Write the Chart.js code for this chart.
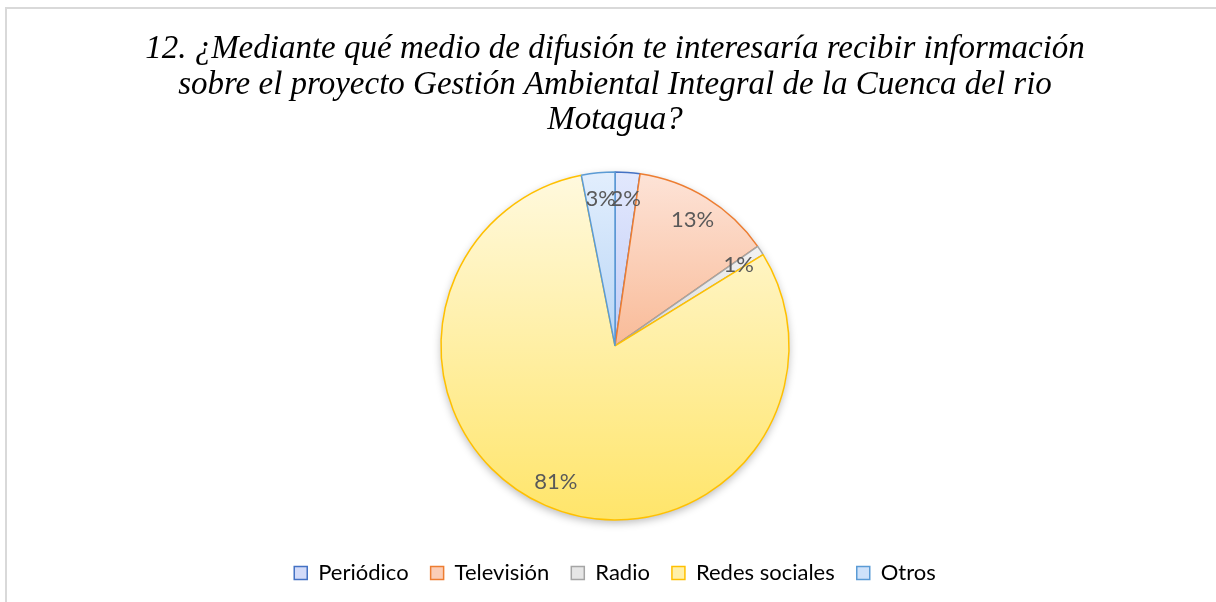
<!DOCTYPE html>
<html><head><meta charset="utf-8">
<script src="https://cdn.jsdelivr.net/npm/chart.js@4/dist/chart.umd.min.js"></script>
<style>html,body{margin:0;padding:0;background:#fff;} #wrap{width:1216px;height:602px;position:relative;}</style>
</head><body><div id="wrap"><canvas id="c" width="1216" height="602"></canvas></div>
<script>
const titleLines = [
  '12. ¿Mediante qué medio de difusión te interesaría recibir información',
  'sobre el proyecto Gestión Ambiental Integral de la Cuenca del rio',
  'Motagua?'
];
const categories = ['Periódico', 'Televisión', 'Radio', 'Redes sociales', 'Otros'];
const values = [2.3, 13.0, 0.9, 80.7, 3.1];
const borderColors = ['#4472C4', '#ED7D31', '#A5A5A5', '#FFC000', '#5B9BD5'];
const gradTop = ['#E2E8FD', '#FDE3D7', '#F2F2F2', '#FFF9DE', '#E2EEFD'];
const gradBottom = ['#C2CDF6', '#F9BB98', '#DADADA', '#FFE56A', '#B9D6F6'];
const legendFill = ['#D3DBF9', '#FBCDB6', '#E6E6E6', '#FFF0A8', '#CFE2FA'];

function sliceGradient(ctx) {
  const chart = ctx.chart, i = ctx.dataIndex;
  const meta = chart.getDatasetMeta(0);
  const R = meta.controller && meta.controller.outerRadius;
  const area = chart.chartArea;
  if (!R || !area) return legendFill[i];
  const cx = (area.left + area.right) / 2, cy = (area.top + area.bottom) / 2;
  const total = values.reduce((a, b) => a + b, 0);
  let cum = 0; for (let k = 0; k < i; k++) cum += values[k];
  const a0 = cum / total * 2 * Math.PI, a1 = (cum + values[i]) / total * 2 * Math.PI;
  const ys = [cy, cy - R * Math.cos(a0), cy - R * Math.cos(a1)];
  if (a0 <= 1e-9 || a1 >= 2 * Math.PI - 1e-9) ys.push(cy - R);
  if (a0 <= Math.PI && a1 >= Math.PI) ys.push(cy + R);
  const y0 = Math.min(...ys), y1 = Math.max(...ys);
  const g = chart.ctx.createLinearGradient(0, y0, 0, y1 + 0.01);
  g.addColorStop(0, gradTop[i]);
  g.addColorStop(1, gradBottom[i]);
  return g;
}

const framePlugin = {
  id: 'frame',
  beforeDraw(chart) {
    const c = chart.ctx;
    c.save();
    c.fillStyle = '#fff';
    c.fillRect(0, 0, chart.width, chart.height);
    c.strokeStyle = '#D9D9D9';
    c.lineWidth = 2;
    c.strokeRect(6, 8, 1400, 800);
    c.restore();
  }
};

const shadowPlugin = {
  id: 'pieShadow',
  beforeDatasetsDraw(chart) {
    const meta = chart.getDatasetMeta(0);
    const arc = meta.data[0];
    if (!arc) return;
    const c = chart.ctx;
    c.save();
    c.beginPath();
    c.arc(arc.x, arc.y, arc.outerRadius, 0, Math.PI * 2);
    c.shadowColor = 'rgba(0,0,0,0.28)';
    c.shadowBlur = 8;
    c.shadowOffsetY = 3;
    c.fillStyle = '#fff';
    c.fill();
    c.restore();
  }
};

const labelPlugin = {
  id: 'sliceLabels',
  afterDatasetsDraw(chart) {
    const meta = chart.getDatasetMeta(0);
    const total = values.reduce((a, b) => a + b, 0);
    const c = chart.ctx;
    c.save();
    c.font = '22px Lato';
    c.fillStyle = '#595959';
    c.textAlign = 'center';
    c.textBaseline = 'middle';
    meta.data.forEach((arc, i) => {
      const mid = (arc.startAngle + arc.endAngle) / 2;
      const r = arc.outerRadius * 0.85;
      const x = arc.x + Math.cos(mid) * r;
      const y = arc.y + Math.sin(mid) * r;
      c.fillText(Math.round(values[i] / total * 100) + '%', x, y);
    });
    c.restore();
  }
};

new Chart(document.getElementById('c'), {
  type: 'pie',
  data: {
    labels: categories,
    datasets: [{
      data: values,
      backgroundColor: sliceGradient,
      borderColor: borderColors,
      borderWidth: 1.5,
      radius: 174
    }]
  },
  options: {
    responsive: false,
    animation: false,
    devicePixelRatio: 1,
    layout: { padding: { left: 14, right: 0, top: 0, bottom: 8 } },
    plugins: {
      title: {
        display: true,
        text: titleLines,
        color: '#000',
        font: { family: 'Liberation Serif', style: 'italic', weight: 'normal', size: 33, lineHeight: 1.07 },
        padding: { top: 32, bottom: 14 }
      },
      legend: {
        display: true,
        position: 'bottom',
        labels: {
          color: '#595959',
          font: { family: 'Lato', size: 22 },
          boxWidth: 13,
          boxHeight: 13,
          padding: 22,
          generateLabels() {
            return categories.map((t, i) => ({
              text: t, fillStyle: legendFill[i], strokeStyle: borderColors[i],
              lineWidth: 1.5, hidden: false, index: i
            }));
          }
        }
      },
      tooltip: { enabled: false }
    }
  },
  plugins: [framePlugin, shadowPlugin, labelPlugin]
});
</script>
</body></html>
